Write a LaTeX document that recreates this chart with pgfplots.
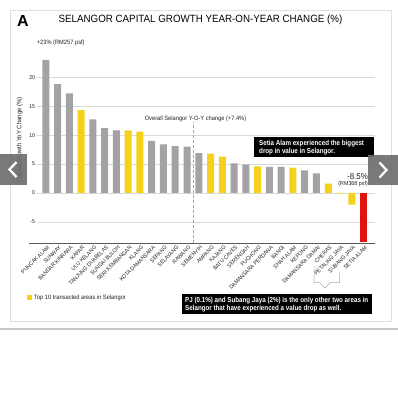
\documentclass[border=0pt]{standalone}
\usepackage{pgfplots}
\pgfplotsset{compat=1.18}
\usepackage{fontspec}
\setmainfont{Liberation Sans}
\newfontfamily\cond[FakeStretch=0.92]{Liberation Sans}
\newfontfamily\condB[FakeStretch=0.865]{Liberation Sans}
\newfontfamily\titlef[FakeStretch=0.93]{Liberation Sans}
\definecolor{bargray}{HTML}{A3A3A3}
\definecolor{baryel}{HTML}{F5D11B}
\definecolor{barred}{HTML}{E0140E}
\definecolor{txt}{HTML}{222222}
\begin{document}
\begin{tikzpicture}
\useasboundingbox[fill=white] (0pt,0pt) rectangle (398pt,-400pt);
\begin{scope}[x=1pt,y=-1pt]
  \draw[gray!25, line width=0.6pt] (10.5,10) rectangle (391.7,321);
  \draw[gray!45, line width=1.6pt] (0,329) -- (398,329);
\end{scope}
\begin{axis}[
  scale only axis, width=338.3pt, height=195pt,
  at={(36.7pt,-243.3pt)}, anchor=south west,
  xmin=-0.77, xmax=27.97, ymin=-8.7, ymax=25,
  axis line style={draw=none},
  major tick length=0pt,
  ymajorgrids, grid style={gray!30, line width=0.5pt},
  ytick={-5,0,5,10,15,20},
  yticklabels={-5,0,5,10,15,20},
  yticklabel style={font=\cond\fontsize{5.6}{6}\selectfont, text=txt, anchor=east, inner sep=0.5pt, xshift=-1pt},
  xtick={0,...,27},
  xticklabels={PUNCAK ALAM,SUNWAY,BANDAR KINRARA,KAPAR,ULU KELANG,TANJUNG DUABELAS,SUNGAI BULOH,SERI KEMBANGAN,KLANG,KOTA DAMANSARA,SEPANG,SELAYANG,RAWANG,SEMENYIH,AMPANG,KAJANG,BATU CAVES,SERENDAH,PUCHONG,DAMANSARA PERDANA,BANGI,SHAH ALAM,KEPONG,DAMANSARA DAMAI,CHERAS,PETALING JAYA,SUBANG JAYA,SETIA ALAM},
  xticklabel style={font=\cond\fontsize{5.6}{6}\selectfont, text=txt, rotate=45, anchor=north east, inner sep=0.5pt, xshift=0pt, yshift=-1.5pt},
  ylabel={Capital Growth YoY Change (\%)},
  ylabel style={font=\cond\fontsize{6.5}{7}\selectfont, text=txt, at={(axis description cs:-0.05,0.53)}, anchor=center},
  clip=false,
]
\addplot[ybar, bar width=7pt, bar shift=0pt, fill=bargray, draw=none] coordinates {
 (0,23.0) (1,18.8) (2,17.2) (4,12.7) (5,11.2) (6,10.8) (9,9.0) (10,8.4) (11,8.1) (12,8.0) (13,6.9) (16,5.1) (17,4.9) (19,4.5) (20,4.5) (22,3.9) (23,3.4)};
\addplot[ybar, bar width=7pt, bar shift=0pt, fill=baryel, draw=none] coordinates {
 (3,14.3) (7,10.8) (8,10.6) (14,6.8) (15,6.3) (18,4.6) (21,4.4) (24,1.6) (25,-0.1) (26,-2.0)};
\addplot[ybar, bar width=7pt, bar shift=0pt, fill=barred, draw=none] coordinates {(27,-8.5)};
\draw[line width=1.3pt, black!65] (axis cs:-1.42,-8.7) -- (axis cs:27.97,-8.7);
\draw[gray!70, densely dashed, line width=0.5pt] (axis cs:12.5,-8.7) -- (axis cs:12.5,12.3);
\end{axis}
\begin{scope}[x=1pt,y=-1pt]
  \node[anchor=base west, inner sep=0] at (17,26.7) {\fontsize{16}{16}\selectfont\bfseries A};
  \node[anchor=base, inner sep=0] at (200.5,22.7) {\titlef\fontsize{10.5}{11}\selectfont SELANGOR CAPITAL GROWTH YEAR-ON-YEAR CHANGE (\%)};
  \node[anchor=base west, inner sep=0, text=txt] at (36.7,44.5) {\cond\fontsize{6.2}{7}\selectfont +23\% (RM257 psf)};
  \node[anchor=base, inner sep=0, text=txt] at (195.5,120.7) {\cond\fontsize{6.2}{7}\selectfont Overall Selangor Y-O-Y change (+7.4\%)};
  \fill[black] (254,136.7) rectangle (373.5,156.7);
  \node[anchor=base west, inner sep=0, text=white] at (259,145.3) {\condB\bfseries\fontsize{7.2}{8}\selectfont Setia Alam experienced the biggest};
  \node[anchor=base west, inner sep=0, text=white] at (259,153.3) {\condB\bfseries\fontsize{7.2}{8}\selectfont drop in value in Selangor.};
  \node[anchor=base east, inner sep=0, text=txt] at (368,179) {\cond\fontsize{8.6}{9}\selectfont -8.5\%};
  \node[anchor=base east, inner sep=0, text=txt] at (368,185.5) {\cond\fontsize{5.8}{6}\selectfont (RM368 psf)};
  \fill[baryel] (26.7,295) rectangle (31.7,300);
  \node[anchor=base west, inner sep=0, text=txt] at (34,299.6) {\cond\fontsize{6.2}{7}\selectfont Top 10 transacted areas in Selangor};
  \fill[black] (182,294.3) rectangle (372,314.3);
  \node[anchor=base west, inner sep=0, text=white] at (185,302.3) {\condB\bfseries\fontsize{7.2}{8}\selectfont PJ (0.1\%) and Subang Jaya (2\%) is the only other two areas in};
  \node[anchor=base west, inner sep=0, text=white] at (185,310.7) {\condB\bfseries\fontsize{7.2}{8}\selectfont Selangor that have experienced a value drop as well.};
  \draw[gray!70, line width=0.5pt] (314,266.7) -- (314,282.7) -- (320,282.7) -- (325,288) -- (330,282.7) -- (339.3,282.7) -- (339.3,272.7);
  \fill[black!58, opacity=0.9] (0,154) rectangle (26.7,185);
  \draw[white, line width=2.2pt] (16.5,162) -- (9.5,169.5) -- (16.5,177);
  \fill[black!58, opacity=0.9] (368.3,155) rectangle (398,185);
  \draw[white, line width=2.2pt] (379.5,162.5) -- (386.5,170) -- (379.5,177.5);
\end{scope}
\end{tikzpicture}
\end{document}
